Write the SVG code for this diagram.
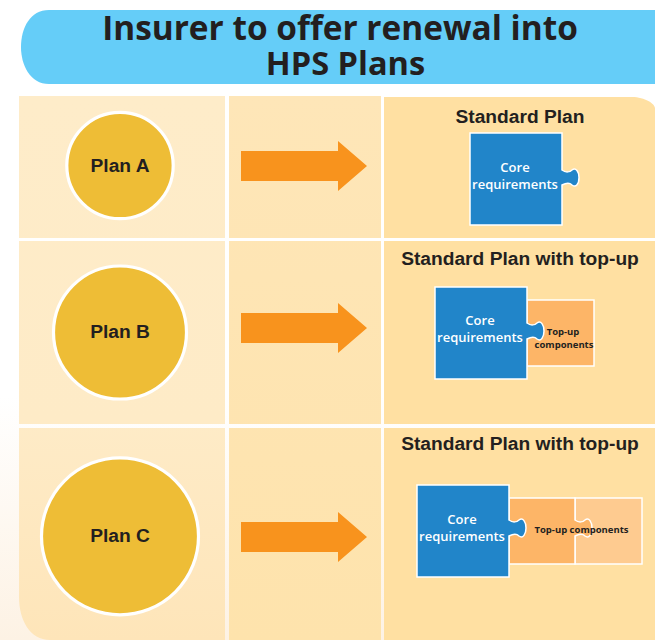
<svg xmlns="http://www.w3.org/2000/svg" width="655" height="640" viewBox="0 0 655 640">
<style>
.t{font-family:"Liberation Sans",Arial,sans-serif;font-weight:700;fill:#231f20;text-anchor:middle}
.h{font-size:19.200px}.p{font-size:19.200px}
.n{font-family:"Open Sans","Noto Sans",sans-serif;font-weight:600;text-anchor:middle}
.w{font-size:13px;fill:#fff}.d{font-size:9.500px;fill:#231f20;font-weight:700}
.c{fill:#eebd36;stroke:#fff;stroke-width:3.200}
.a{fill:#f8931d}
.b{fill:#2185c9;stroke:#fff;stroke-width:1.500}
.o{fill:#fdb567;stroke:#fff;stroke-width:1.500}
.l{fill:#fecb90;stroke:#fff;stroke-width:1.500}
</style>
<defs>
<linearGradient id="bg" x1="0" y1="0" x2="0" y2="1"><stop offset="0.55" stop-color="#fff"/><stop offset="1" stop-color="#fdf2e4"/></linearGradient>
<linearGradient id="c1" gradientUnits="userSpaceOnUse" x1="0" y1="96" x2="0" y2="640"><stop offset="0" stop-color="#feecc9"/><stop offset="0.6" stop-color="#feebc7"/><stop offset="1" stop-color="#fee5b9"/></linearGradient>
<linearGradient id="c2" gradientUnits="userSpaceOnUse" x1="0" y1="96" x2="0" y2="640"><stop offset="0" stop-color="#fee6b8"/><stop offset="1" stop-color="#fee3ac"/></linearGradient>
<path id="ar" class="a" d="M0,-15 H97 V-25 L126,0 L97,25 V15 H0 Z"/>
</defs>
<rect width="655" height="640" fill="#fff"/>
<rect x="0" y="96" width="655" height="544" fill="url(#bg)"/>
<g id="title">
<path d="M49,10 H655 V84 H49 C30,84 21,65 21,47 C21,28 30,10 49,10 Z" fill="#65cdf8"/>
<text font-family="'Open Sans','Noto Sans',sans-serif" font-weight="700" font-size="33.400" fill="#231f20" text-anchor="middle"><tspan x="340" y="40">Insurer to offer renewal into</tspan><tspan x="345.500" y="74.500" font-size="32.600">HPS Plans</tspan></text>
</g>
<g id="panels">
<path d="M19,96 H225 V238 H19 Z M19,241 H225 V424 H19 Z M19,428 H225 V640 H50 C30,640 19,620 19,597 Z" fill="url(#c1)"/>
<path d="M229,96 H381 V238 H229 Z M229,241 H381 V424 H229 Z M229,428 H381 V640 H229 Z" fill="url(#c2)"/>
<path d="M384,97 H632 C645,97 655,104 655,108 V238 H384 Z M384,241 H655 V424 H384 Z M384,428 H655 V640 H384 Z" fill="#ffe0a2"/>
</g>
<g id="plan-a"><circle class="c" cx="120" cy="165.500" r="53.200"/><text class="t p" x="120" y="172">Plan A</text></g>
<g id="plan-b"><circle class="c" cx="120" cy="332.500" r="66.500"/><text class="t p" x="120" y="338">Plan B</text></g>
<g id="plan-c"><circle class="c" cx="120" cy="536.300" r="78.500"/><text class="t p" x="120" y="542">Plan C</text></g>
<g id="connectors">
<use href="#ar" x="241" y="166"/>
<use href="#ar" x="241" y="328"/>
<use href="#ar" x="241" y="537"/>
</g>
<g id="standard-plan">
<text class="t h" x="520" y="123">Standard Plan</text>
<path class="b" d="M470,133 H562 V170 C566,173 570,172 572,170 C576,167 579,172 579,177.500 C579,184 576,188 572,185 C570,183 566,183 562,185 V225 H470 Z"/>
<text class="n w" x="515" y="172">Core</text><text class="n w" x="515" y="189">requirements</text>
</g>
<g id="standard-topup-b">
<text class="t h" x="520" y="265">Standard Plan with top-up</text>
<rect class="o" x="527" y="300" width="67" height="66"/>
<path class="b" d="M435,287 H527 V323 C531,326 535,325 537,323 C541,320 544,325 544,331 C544,337 541,342 537,339 C535,337 531,337 527,339 V379 H435 Z"/>
<text class="n w" x="480" y="325">Core</text><text class="n w" x="480" y="342">requirements</text>
<text class="n d" x="563" y="335">Top-up</text><text class="n d" x="564" y="348">components</text>
</g>
<g id="standard-topup-c">
<text class="t h" x="520" y="450">Standard Plan with top-up</text>
<rect class="l" x="575" y="498" width="67" height="66"/>
<path class="o" d="M509,498 H575 V520 C579,523 583,522 585,520 C589,517 592,522 592,528 C592,534 589,539 585,536 C583,534 579,534 575,536 V564 H509 Z"/>
<path class="b" d="M417,485 H509 V520 C513,523 517,522 519,520 C523,517 526,522 526,528 C526,534 523,539 519,536 C517,534 513,534 509,536 V577 H417 Z"/>
<text class="n w" x="462" y="524">Core</text><text class="n w" x="462" y="541">requirements</text>
<text class="n d" x="581.500" y="533">Top-up components</text>
</g>
</svg>
